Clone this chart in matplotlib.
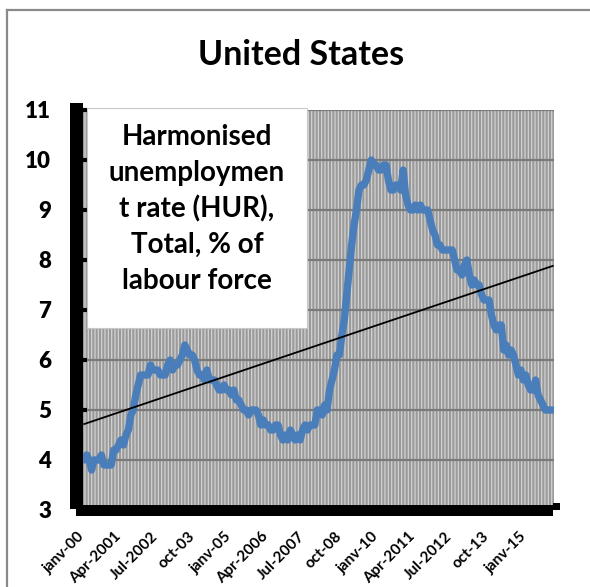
import numpy as np
import matplotlib
matplotlib.use("Agg")
import matplotlib.pyplot as plt
import matplotlib.transforms as mtransforms
from matplotlib.patches import Rectangle
from matplotlib.lines import Line2D

# ---- data (monthly, Jan 2000 - Dec 2015) ----
rate_2000 = [4.0, 4.1, 4.0, 3.8, 4.0, 4.0, 4.0, 4.1, 3.9, 3.9, 3.9, 3.9]
rate_2001 = [4.2, 4.2, 4.3, 4.4, 4.3, 4.5, 4.6, 4.9, 5.0, 5.3, 5.5, 5.7]
rate_2002 = [5.7, 5.7, 5.7, 5.9, 5.8, 5.8, 5.8, 5.7, 5.7, 5.7, 5.9, 6.0]
rate_2003 = [5.8, 5.9, 5.9, 6.0, 6.1, 6.3, 6.2, 6.1, 6.1, 6.0, 5.8, 5.7]
rate_2004 = [5.7, 5.6, 5.8, 5.6, 5.6, 5.6, 5.5, 5.4, 5.4, 5.5, 5.4, 5.4]
rate_2005 = [5.3, 5.4, 5.2, 5.2, 5.1, 5.0, 5.0, 4.9, 5.0, 5.0, 5.0, 4.9]
rate_2006 = [4.7, 4.8, 4.7, 4.7, 4.6, 4.6, 4.7, 4.7, 4.5, 4.4, 4.5, 4.4]
rate_2007 = [4.6, 4.5, 4.4, 4.5, 4.4, 4.6, 4.7, 4.6, 4.7, 4.7, 4.7, 5.0]
rate_2008 = [5.0, 4.9, 5.1, 5.0, 5.4, 5.6, 5.8, 6.1, 6.1, 6.5, 6.8, 7.3]
rate_2009 = [7.8, 8.3, 8.7, 9.0, 9.4, 9.5, 9.5, 9.6, 9.8, 10.0, 9.9, 9.9]
rate_2010 = [9.8, 9.8, 9.9, 9.9, 9.6, 9.4, 9.4, 9.5, 9.5, 9.4, 9.8, 9.3]
rate_2011 = [9.1, 9.0, 9.0, 9.1, 9.0, 9.1, 9.0, 9.0, 9.0, 8.8, 8.6, 8.5]
rate_2012 = [8.3, 8.3, 8.2, 8.2, 8.2, 8.2, 8.2, 8.0, 7.8, 7.8, 7.7, 7.9]
rate_2013 = [8.0, 7.7, 7.5, 7.6, 7.5, 7.5, 7.3, 7.2, 7.2, 7.2, 6.9, 6.7]
rate_2014 = [6.6, 6.7, 6.7, 6.2, 6.3, 6.1, 6.2, 6.1, 5.9, 5.7, 5.8, 5.6]
rate_2015 = [5.7, 5.5, 5.4, 5.4, 5.6, 5.3, 5.2, 5.1, 5.0, 5.0, 5.0, 5.0]

rates = (rate_2000 + rate_2001 + rate_2002 + rate_2003 + rate_2004 + rate_2005 +
         rate_2006 + rate_2007 + rate_2008 + rate_2009 + rate_2010 + rate_2011 +
         rate_2012 + rate_2013 + rate_2014 + rate_2015)

tick_labels = ["janv-00", "Apr-2001", "Jul-2002", "oct-03", "janv-05", "Apr-2006",
               "Jul-2007", "oct-08", "janv-10", "Apr-2011", "Jul-2012", "oct-13", "janv-15"]
tick_step = 15
y_ticks = list(range(3, 12))

title = "United States"
box_text = "Harmonised\nunemploymen\nt rate (HUR),\nTotal, % of\nlabour force"

# ---- figure ----
W, H = 590, 587
plt.rcParams['hatch.linewidth'] = 0.9
plt.rcParams['hatch.color'] = '#d2d2d2'
FONT = ['Lato', 'DejaVu Sans']

fig = plt.figure(figsize=(W / 100, H / 100), dpi=100)
fig.patch.set_facecolor('white')

def fx(x):
    return x / W

def fy(y):
    return 1 - y / H

def rect_px(x0, y0, x1, y1, **kw):
    r = Rectangle((fx(x0), fy(y1)), fx(x1) - fx(x0), fy(y0) - fy(y1),
                  transform=fig.transFigure, **kw)
    fig.add_artist(r)
    return r

# axes area in pixels: x 83..554, y 110..510
ax = fig.add_axes([fx(83), fy(510), fx(554) - fx(83), fy(110) - fy(510)])
ax.set_facecolor('#9a9a9a')
ax.patch.set_hatch('|||||')
ax.patch.set_edgecolor('#d2d2d2')
ax.patch.set_linewidth(0)

x = np.arange(len(rates))
ax.set_xlim(-0.5, len(rates) - 0.5)
ax.set_ylim(3, 11)

for yv in y_ticks:
    ax.axhline(yv, color='#7a7a7a', lw=1.6, zorder=1)

ax.plot(x, rates, color='#4a7ebb', lw=5.3, solid_capstyle='round',
        solid_joinstyle='round', zorder=3)

coef = np.polyfit(x, rates, 1)
ax.plot(x, np.polyval(coef, x), color='black', lw=1.3, zorder=4)

for s in ax.spines.values():
    s.set_visible(False)

ax.set_yticks(y_ticks)
ax.set_yticklabels([str(v) for v in y_ticks], fontsize=16, fontweight='heavy',
                   family=FONT)
ax.tick_params(axis='y', length=3, width=3, color='black', direction='in', pad=23)

tick_pos = [i * tick_step for i in range(len(tick_labels))]
ax.set_xticks(tick_pos)
ax.set_xticklabels(tick_labels, rotation=45, ha='right', va='top',
                   rotation_mode='anchor', fontsize=11, fontweight='bold', family=FONT)
ax.tick_params(axis='x', length=0, pad=12)
shift = mtransforms.ScaledTranslation(-0.07, -0.03, fig.dpi_scale_trans)
for lab in ax.get_xticklabels():
    lab.set_transform(lab.get_transform() + shift)

# 3D-like wall and floor
rect_px(70, 103, 83, 509, facecolor='black', edgecolor='none', zorder=2)
rect_px(76, 505, 553, 516, facecolor='black', edgecolor='none', zorder=2)
rect_px(553, 503, 560, 510, facecolor='black', edgecolor='none', zorder=2)

# chart area border (clipped at right and bottom)
fig.add_artist(Line2D([fx(7), fx(7)], [fy(10), fy(H + 5)], transform=fig.transFigure,
                      color='#8a8a8a', lw=1.6))
fig.add_artist(Line2D([fx(7), fx(W + 5)], [fy(10), fy(10)], transform=fig.transFigure,
                      color='#8a8a8a', lw=1.6))

# title
fig.text(fx(301), fy(55), title, ha='center', va='center', fontsize=24.5,
         fontweight='bold', family=FONT)

# text box
rect_px(87, 108, 307, 328, facecolor='white', edgecolor='#c8c8c8', lw=0.8, zorder=5)
fig.text(fx(197), fy(209), box_text, ha='center', va='center', fontsize=20,
         fontweight='bold', family=FONT, linespacing=1.45, zorder=6)

fig.savefig('out.png', dpi=100, facecolor='white')
